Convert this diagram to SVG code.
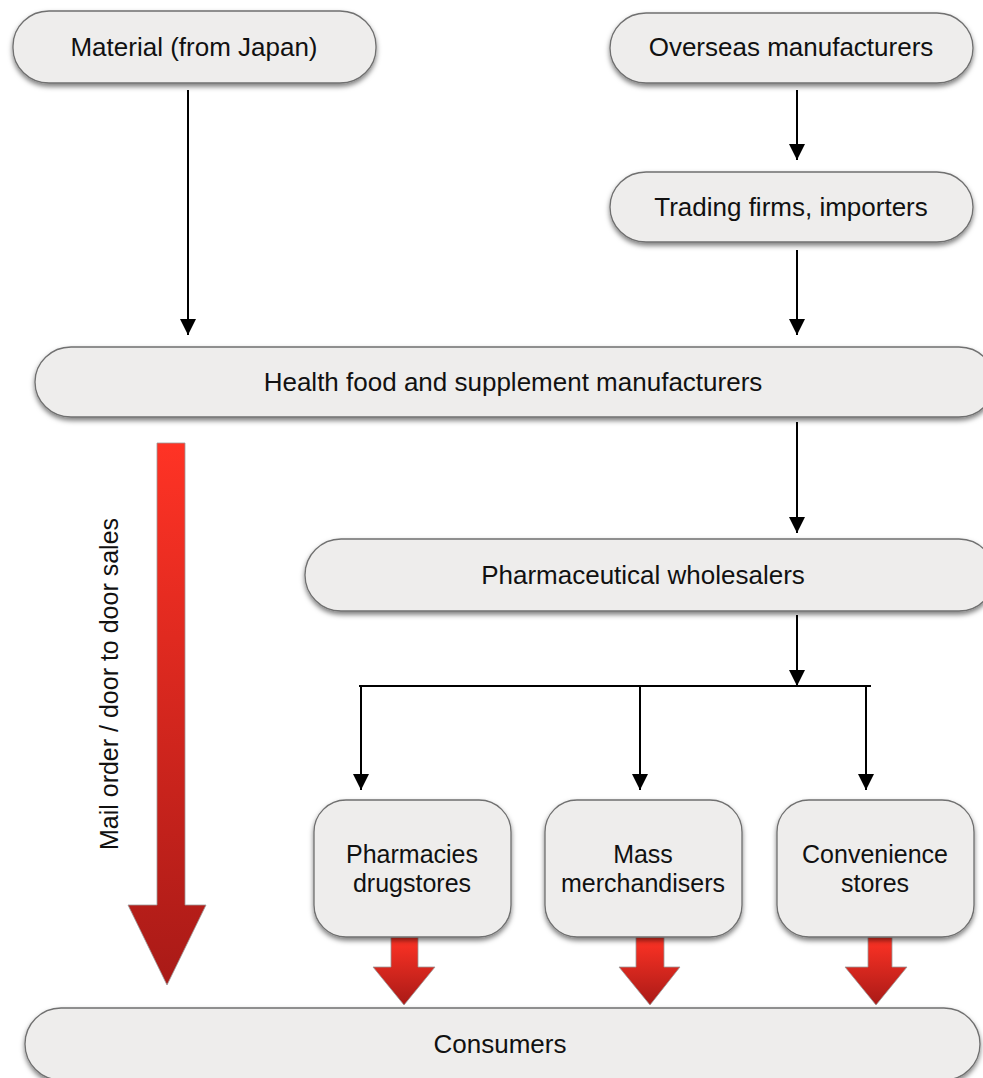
<svg xmlns="http://www.w3.org/2000/svg" width="983" height="1078" viewBox="0 0 983 1078">
<style>
.node{fill:#eeedec;stroke:#6f6f6f;stroke-width:1.3;filter:url(#sh)}
.t{font-family:"Liberation Sans",Arial,sans-serif;font-size:26px;fill:#111;text-anchor:middle}
.m{font-size:25px}
.c{stroke:#000;stroke-width:2;fill:none}
.ra{fill:url(#red);stroke:#9a9a9a;stroke-width:0.8}
</style>
<defs>
<filter id="sh" x="-5%" y="-20%" width="110%" height="150%">
<feDropShadow dx="0" dy="3" stdDeviation="2.5" flood-color="#000" flood-opacity="0.5"/>
</filter>
<linearGradient id="red" x1="0" y1="0" x2="0" y2="1">
<stop offset="0" stop-color="#ff3325"/>
<stop offset="1" stop-color="#a91a17"/>
</linearGradient>
<marker id="ah" markerUnits="userSpaceOnUse" markerWidth="16" markerHeight="18" refX="16" refY="8" orient="auto">
<path d="M0,0 L16,8 L0,16 Z" fill="#000"/>
</marker>
</defs>
<g id="connectors">
<path class="c" d="M188,90 V335" marker-end="url(#ah)"/>
<path class="c" d="M797,90 V160" marker-end="url(#ah)"/>
<path class="c" d="M797,250 V335" marker-end="url(#ah)"/>
<path class="c" d="M797,422 V533" marker-end="url(#ah)"/>
<path class="c" d="M797,615 V686" marker-end="url(#ah)"/>
<path class="c" d="M359,686 H871"/>
<path class="c" d="M361,686 V790" marker-end="url(#ah)"/>
<path class="c" d="M640,686 V790" marker-end="url(#ah)"/>
<path class="c" d="M866,686 V790" marker-end="url(#ah)"/>
<path class="ra" d="M157,443 H185 V905 H206 L167,985 L128,905 H157 Z"/>
<path class="ra" d="M391,937 H418 V967 H435 L404,1005 L373,967 H391 Z"/>
<path class="ra" d="M636,937 H664 V967 H680 L650,1005 L619,967 H636 Z"/>
<path class="ra" d="M868,937 H892 V967 H907 L876,1005 L845,967 H868 Z"/>
</g>
<g id="material"><rect class="node" x="13" y="11" width="363" height="72" rx="36" ry="35"/><text class="t" x="194" y="56">Material (from Japan)</text></g>
<g id="overseas"><rect class="node" x="610" y="13" width="363" height="70" rx="36" ry="35"/><text class="t" x="791" y="56">Overseas manufacturers</text></g>
<g id="trading"><rect class="node" x="610" y="172" width="363" height="70" rx="36" ry="35"/><text class="t" x="791" y="216">Trading firms, importers</text></g>
<g id="health"><rect class="node" x="35" y="347" width="960" height="70" rx="36" ry="35"/><text class="t" x="513" y="391">Health food and supplement manufacturers</text></g>
<g id="mailorder"><text class="t m" transform="translate(118,684) rotate(-90)">Mail order / door to door sales</text></g>
<g id="wholesalers"><rect class="node" x="305" y="539" width="690" height="72" rx="36" ry="36"/><text class="t" x="643" y="584">Pharmaceutical wholesalers</text></g>
<g id="pharmacies"><rect class="node" x="314" y="800" width="197" height="137" rx="32" ry="32"/><text class="t m" x="412" y="863">Pharmacies</text><text class="t m" x="412" y="892">drugstores</text></g>
<g id="mass"><rect class="node" x="545" y="800" width="197" height="137" rx="32" ry="32"/><text class="t m" x="643" y="863">Mass</text><text class="t m" x="643" y="892">merchandisers</text></g>
<g id="convenience"><rect class="node" x="777" y="800" width="197" height="137" rx="32" ry="32"/><text class="t m" x="875" y="863">Convenience</text><text class="t m" x="875" y="892">stores</text></g>
<g id="consumers"><rect class="node" x="25" y="1008" width="955" height="72" rx="36" ry="36"/><text class="t" x="500" y="1053">Consumers</text></g>
</svg>
